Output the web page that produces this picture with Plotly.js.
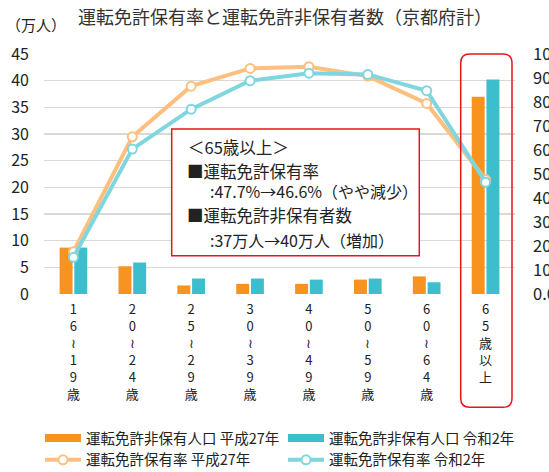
<!DOCTYPE html>
<html><head><meta charset="utf-8">
<script src="https://cdn.plot.ly/plotly-3.0.1.min.js"></script>
<style>body{margin:0;padding:0;background:#fff}#chart{width:549px;height:472px}</style>
</head><body><div id="chart"></div>
<script>
const categories = ["1<br>6<br>≀<br>1<br>9<br>歳","2<br>0<br>≀<br>2<br>4<br>歳","2<br>5<br>≀<br>2<br>9<br>歳","3<br>0<br>≀<br>3<br>9<br>歳","4<br>0<br>≀<br>4<br>9<br>歳","5<br>0<br>≀<br>5<br>9<br>歳","6<br>0<br>≀<br>6<br>4<br>歳","6<br>5<br>歳<br>以<br>上"];
const nonHolderH27 = [8.7, 5.2, 1.6, 1.9, 1.9, 2.7, 3.3, 37.0];
const nonHolderR2  = [8.7, 5.9, 2.9, 2.9, 2.7, 2.9, 2.2, 40.2];
const rateH27 = [17.6, 65.5, 86.6, 94.0, 94.7, 90.8, 79.4, 47.7];
const rateR2  = [15.3, 60.4, 77.0, 88.9, 92.0, 91.5, 84.7, 46.6];
const seriesNames = ["運転免許非保有人口 平成27年","運転免許非保有人口 令和2年","運転免許保有率 平成27年","運転免許保有率 令和2年"];
const titleText = "運転免許保有率と運転免許非保有者数（京都府計）";
const unitText = "（万人）";
const boxLines = ["＜65歳以上＞","■運転免許保有率",":47.7%→46.6%（やや減少）","■運転免許非保有者数",":37万人→40万人（増加）"];

const FONT = '"Noto Sans CJK JP", "Noto Sans", sans-serif';
const W = 549, H = 472, L = 44, R = 515, T = 54, B = 294;
const px = x => (x - L) / (R - L);
const py = y => (B - y) / (B - T);

const cOrange = '#F7931E', cTeal = '#3CBFCC', lOrange = '#FFBF80', lTeal = '#7FD6DE';

const traces = [
  {type:'bar', x:categories, y:nonHolderH27, name:seriesNames[0], marker:{color:cOrange}, showlegend:false, hoverinfo:'none'},
  {type:'bar', x:categories, y:nonHolderR2, name:seriesNames[1], marker:{color:cTeal}, showlegend:false, hoverinfo:'none'},
  {type:'scatter', mode:'lines', x:[null], y:[null], name:seriesNames[0], line:{color:cOrange, width:8}},
  {type:'scatter', mode:'lines', x:[null], y:[null], name:seriesNames[1], line:{color:cTeal, width:8}},
  {type:'scatter', mode:'lines+markers', x:categories, y:rateH27, yaxis:'y2', name:seriesNames[2],
   line:{color:lOrange, width:4}, marker:{size:9, color:'#fff', line:{color:lOrange, width:2}}},
  {type:'scatter', mode:'lines+markers', x:categories, y:rateR2, yaxis:'y2', name:seriesNames[3],
   line:{color:lTeal, width:4}, marker:{size:9, color:'#fff', line:{color:lTeal, width:2}}}
];

// rounded rect around last category
const x0 = px(460.7), x1 = px(512), y1 = py(54), y0 = py(407.3);
const rx = 9/(R-L), ry = 9/(B-T);
const rr = `M${x0+rx},${y1} L${x1-rx},${y1} Q${x1},${y1} ${x1},${y1-ry} L${x1},${y0+ry} Q${x1},${y0} ${x1-rx},${y0} L${x0+rx},${y0} Q${x0},${y0} ${x0},${y0+ry} L${x0},${y1-ry} Q${x0},${y1} ${x0+rx},${y1} Z`;

const boxPos = [[186,147,16.5],[185,171,16.5],[208,191,16],[185,215,16.5],[208,240,16]];
const annotations = boxLines.map((t,i)=>({xref:'paper', yref:'paper', x:px(boxPos[i][0]), y:py(boxPos[i][1]),
  xanchor:'left', yanchor:'middle', text:t, showarrow:false, font:{family:FONT, size:boxPos[i][2], color:'#222'}}));
annotations.push({xref:'paper', yref:'paper', x:px(4), y:py(24), xanchor:'left', yanchor:'middle', text:unitText,
  showarrow:false, font:{family:FONT, size:15, color:'#222'}});

const layout = {
  width:W, height:H, margin:{l:L, r:W-R, t:T, b:H-B, autoexpand:false}, paper_bgcolor:'#fff', plot_bgcolor:'#fff',
  font:{family:FONT, color:'#222'},
  title:{text:titleText, x:285/W, xref:'container', xanchor:'center', y:1-18/H, yref:'container', yanchor:'middle',
    font:{family:FONT, size:18, color:'#333'}},
  barmode:'group', bargap:0.5, bargroupgap:0.12,
  xaxis:{type:'category', showgrid:false, zeroline:false, showline:false, ticks:'', tickangle:0,
    tickfont:{family:FONT, size:13, color:'#222'}, ticklabelstandoff:6, automargin:false},
  yaxis:{range:[0,45], dtick:5, showgrid:true, gridcolor:'#D9D9D9', gridwidth:1.5, zeroline:false, showline:false,
    tickfont:{family:FONT, size:16, color:'#222'}, ticklabelstandoff:14, automargin:false, fixedrange:true},
  yaxis2:{range:[0,100], dtick:10, overlaying:'y', side:'right', showgrid:false, zeroline:false, showline:false,
    tickformat:'.1f', ticksuffix:'%', tickfont:{family:FONT, size:16.5, color:'#222'}, ticklabelstandoff:17, automargin:false},
  legend:{orientation:'h', x:px(40), xanchor:'left', y:py(422), yanchor:'top',
    entrywidth:192, entrywidthmode:'pixels',
    font:{family:FONT, size:14.5, color:'#222'}, traceorder:'normal', bgcolor:'rgba(0,0,0,0)', tracegroupgap:0, itemwidth:36},
  shapes:[
    {type:'rect', xref:'paper', yref:'paper', x0:px(171.7), x1:px(419.3), y0:py(255.7), y1:py(129), fillcolor:'#fff',
      line:{color:'#E8141B', width:1.5}, layer:'above'},
    {type:'path', xref:'paper', yref:'paper', path:rr, line:{color:'#E8141B', width:1.5}, layer:'above'}
  ],
  annotations:annotations, showlegend:true
};
Plotly.newPlot('chart', traces, layout, {staticPlot:true, displayModeBar:false});
</script></body></html>
